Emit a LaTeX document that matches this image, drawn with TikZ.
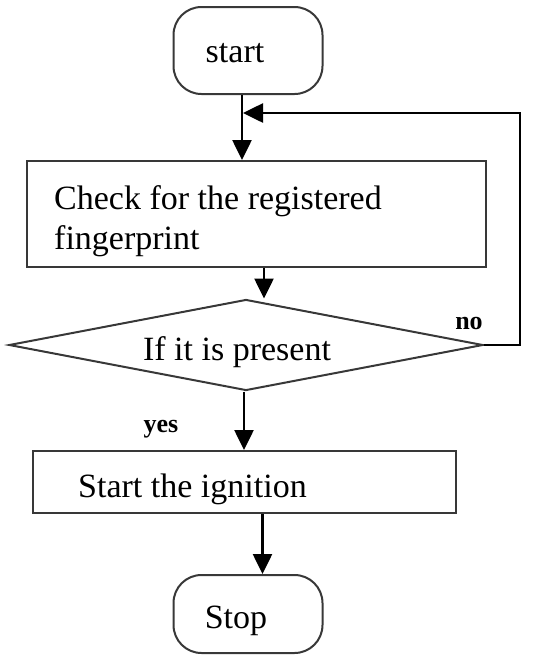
\documentclass[tikz,border=0pt]{standalone}
\usepackage{fontspec}
\setmainfont{Liberation Serif}
\usetikzlibrary{arrows.meta,shapes.geometric}
\tikzset{
  boxline/.style={draw=black!78, line width=2pt},
  termbox/.style={boxline, rectangle, rounded corners=28pt, minimum width=149pt, inner sep=0pt},
  procbox/.style={boxline, rectangle, inner sep=0pt},
  decbox/.style={boxline, diamond, inner sep=0pt, aspect=5.2},
  arr/.style={draw=black, line width=2.6pt, -{Triangle[length=20pt,width=19pt]}},
  bigtxt/.style={inner sep=0pt, font=\fontsize{34}{40}\selectfont},
  smalltxt/.style={inner sep=0pt, font=\fontsize{26}{30}\selectfont\bfseries},
}
\begin{document}
\begin{tikzpicture}[x=1pt,y=-1pt]
\useasboundingbox (0,0) rectangle (534,657);
% shapes
\node[termbox, minimum height=87pt] (start) at (248,50.5) {};
\node[procbox, minimum width=459pt, minimum height=106pt] (check) at (256.5,214) {};
\node[decbox, minimum width=474pt, minimum height=91pt] (dec) at (246,345) {};
\node[procbox, minimum width=423pt, minimum height=62pt] (ign) at (244.5,482) {};
\node[termbox, minimum height=78pt] (stop) at (248,614) {};
% texts
\node[bigtxt, anchor=base] (tstart) at (235,62) {start};
\node[bigtxt, anchor=north west, align=left] (tcheck) at (54,185) {Check for the registered\\fingerprint};
\node[bigtxt, anchor=base] (tdec) at (237,360) {If it is present};
\node[bigtxt, anchor=base west] (tign) at (78,497) {Start the ignition};
\node[bigtxt, anchor=base] (tstop) at (236,628) {Stop};
\node[smalltxt, anchor=base] (tyes) at (161,432) {yes};
\node[smalltxt, anchor=base] (tno) at (469,329) {no};
% connectors
\coordinate (fbtop) at (520,113);
\coordinate (fbin) at (243,113);
\draw[arr] ([xshift=-6pt]start.south) -- ([xshift=-6pt]start.south |- check.north);
\draw[arr] ([xshift=7.5pt]check.south) -- ([xshift=7.5pt]check.south |- dec.north);
\draw[arr] ([xshift=-2pt]dec.south) -- ([xshift=-2pt]dec.south |- ign.north);
\draw[arr] ([xshift=18pt]ign.south) -- ([xshift=18pt]ign.south |- stop.north);
\draw[arr] (dec.east) -| (fbtop) -- (fbin);
\end{tikzpicture}
\end{document}
